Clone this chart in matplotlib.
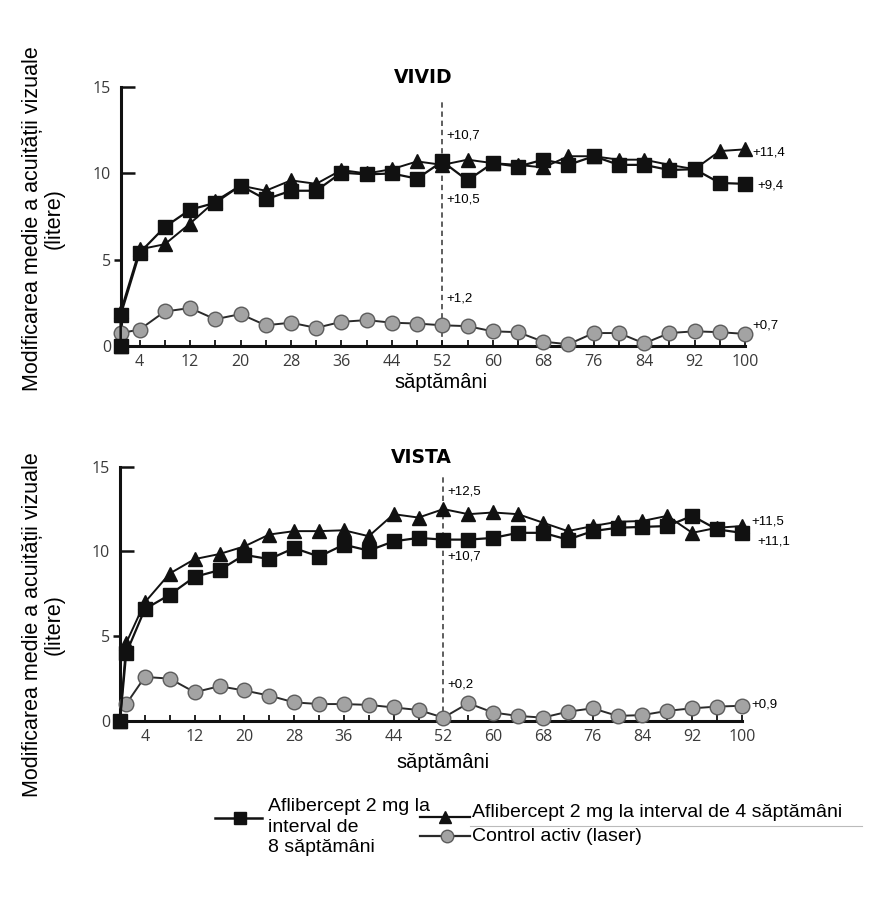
import matplotlib
matplotlib.use('Agg')
import matplotlib.pyplot as plt
import matplotlib.lines as mlines

plt.rcParams['font.family'] = ['Liberation Sans', 'DejaVu Sans']

# Săptămâni (vizite la fiecare 4 săptămâni)
weeks = list(range(4, 101, 4))

# VIVID
vivid_weeks_af = [1, 1] + weeks
vivid_weeks_laser = [1] + weeks
vivid_2q8 = [0, 1.8, 5.4, 6.9, 7.9, 8.3, 9.3, 8.5, 9.0, 9.0, 10.05, 9.95, 10.0, 9.7,
             10.7, 9.6, 10.6, 10.4, 10.8, 10.5, 11.0, 10.5, 10.5, 10.2, 10.25, 9.45, 9.4]
vivid_2q4 = [0, 2.0, 5.6, 5.9, 7.1, 8.4, 9.3, 9.0, 9.6, 9.4, 10.2, 10.0, 10.25, 10.7,
             10.5, 10.8, 10.6, 10.5, 10.35, 11.0, 11.0, 10.8, 10.8, 10.5, 10.25, 11.3, 11.4]
vivid_laser = [0.75, 0.95, 2.0, 2.2, 1.55, 1.85, 1.2, 1.35, 1.05, 1.4, 1.5, 1.35, 1.3,
               1.2, 1.15, 0.85, 0.8, 0.25, 0.1, 0.75, 0.75, 0.15, 0.75, 0.85, 0.8, 0.7]

# VISTA
vista_weeks_af = [0, 1] + weeks
vista_weeks_laser = [1] + weeks
vista_2q8 = [0, 4.0, 6.6, 7.45, 8.5, 8.9, 9.8, 9.55, 10.2, 9.7, 10.4, 10.05, 10.6, 10.8,
             10.7, 10.7, 10.8, 11.1, 11.1, 10.7, 11.2, 11.4, 11.45, 11.5, 12.1, 11.3, 11.1]
vista_2q4 = [0, 4.6, 7.0, 8.7, 9.55, 9.85, 10.3, 11.0, 11.2, 11.2, 11.25, 10.9, 12.2, 12.0,
             12.5, 12.2, 12.3, 12.2, 11.7, 11.2, 11.5, 11.75, 11.8, 12.1, 11.1, 11.4, 11.5]
vista_laser = [1.0, 2.6, 2.5, 1.7, 2.05, 1.8, 1.5, 1.1, 1.0, 1.0, 0.95, 0.8, 0.65,
               0.2, 1.05, 0.5, 0.3, 0.2, 0.55, 0.75, 0.3, 0.35, 0.6, 0.75, 0.85, 0.9]

major_weeks = list(range(4, 101, 8))
minor_weeks = list(range(8, 97, 8))

sq_style = dict(color='#111111', lw=1.6, marker='s', ms=10, mfc='#111111', mec='#111111', clip_on=False, zorder=5)
tri_style = dict(color='#111111', lw=1.4, marker='^', ms=9.5, mfc='#111111', mec='#111111', clip_on=False, zorder=4)
circ_style = dict(color='#2a2a2a', lw=1.4, marker='o', ms=10.5, mfc='#a3a3a3', mec='#5c5c5c', mew=1.0, clip_on=False, zorder=3)

W, H = 879.0, 905.0


def fx(px):
    return px / W


def fy(py):
    return 1 - py / H


def setup_axes(ax, xmin, title):
    ax.set_xlim(xmin, 100)
    ax.set_ylim(0, 15)
    for s in ['top', 'right']:
        ax.spines[s].set_visible(False)
    for s in ['left', 'bottom']:
        ax.spines[s].set_linewidth(2.2)
        ax.spines[s].set_color('#111111')
    ax.set_yticks([0, 5, 10, 15])
    ax.set_xticks(major_weeks)
    ax.set_xticks(minor_weeks, minor=True)
    ax.tick_params(axis='y', direction='in', length=10, width=1.8, pad=7,
                   labelsize=11.5, labelcolor='#3a3a3a', color='#111111')
    ax.tick_params(axis='x', which='both', direction='in', length=4.5, width=1.3,
                   color='#111111')
    ax.tick_params(axis='x', which='major', pad=6, labelsize=11.5, labelcolor='#3a3a3a')
    for lab in ax.get_xticklabels() + ax.get_yticklabels():
        lab.set_fontfamily(['Open Sans', 'DejaVu Sans'])
    # tick pentru 5 spre exterior, ca în original
    t5 = ax.yaxis.get_major_ticks()[1]
    t5.tick1line.set_marker(mlines.TICKLEFT)
    t5.tick1line.set_markersize(5)
    ax.set_title(title, fontsize=13.5, fontweight='bold', family='DejaVu Sans', x=0.484, pad=3)


fig = plt.figure(figsize=(8.79, 9.05), dpi=100)

ax1 = fig.add_axes([0.1373, 0.6177, 0.7103, 0.2859])
ax2 = fig.add_axes([0.1365, 0.2033, 0.7076, 0.2810])

# VIVID
ax1.axvline(52, ymin=0, ymax=14.3 / 15, color='#333333', lw=1.1, ls=(0, (3.5, 2.5)), zorder=1)
ax1.plot(vivid_weeks_laser, vivid_laser, **circ_style)
ax1.plot(vivid_weeks_af, vivid_2q4, **tri_style)
ax1.plot(vivid_weeks_af, vivid_2q8, **sq_style)
setup_axes(ax1, 1, 'VIVID')

ann = dict(textcoords='offset points', fontsize=9.5, va='center', ha='left')
ax1.annotate('+10,7', xy=(52, vivid_2q8[14]), xytext=(3, 19), **ann)
ax1.annotate('+10,5', xy=(52, vivid_2q4[14]), xytext=(3, -25), **ann)
ax1.annotate('+1,2', xy=(52, vivid_laser[13]), xytext=(3, 19.5), **ann)
ax1.annotate('+11,4', xy=(100, vivid_2q4[-1]), xytext=(5, -2.5), **ann)
ax1.annotate('+9,4', xy=(100, vivid_2q8[-1]), xytext=(9, -1.5), **ann)
ax1.annotate('+0,7', xy=(100, vivid_laser[-1]), xytext=(5, 6), **ann)

# VISTA
ax2.axvline(52, ymin=0, ymax=14.4 / 15, color='#333333', lw=1.1, ls=(0, (3.5, 2.5)), zorder=1)
ax2.plot(vista_weeks_laser, vista_laser, **circ_style)
ax2.plot(vista_weeks_af, vista_2q4, **tri_style)
ax2.plot(vista_weeks_af, vista_2q8, **sq_style)
setup_axes(ax2, 0, 'VISTA')

ax2.annotate('+12,5', xy=(52, vista_2q4[14]), xytext=(3, 13), **ann)
ax2.annotate('+10,7', xy=(52, vista_2q8[14]), xytext=(3, -12.5), **ann)
ax2.annotate('+0,2', xy=(52, vista_laser[13]), xytext=(3, 23.5), **ann)
ax2.annotate('+11,5', xy=(100, vista_2q4[-1]), xytext=(7, 3.6), **ann)
ax2.annotate('+11,1', xy=(100, vista_2q8[-1]), xytext=(11, -6.3), **ann)
ax2.annotate('+0,9', xy=(100, vista_laser[-1]), xytext=(7, 1), **ann)

# etichete axa x
fig.text(fx(441), fy(383), 'săptămâni', ha='center', va='center', fontsize=14.5)
fig.text(fx(443), fy(762), 'săptămâni', ha='center', va='center', fontsize=14.5)

# etichete axa y
ylab = 'Modificarea medie a acuității vizuale\n(litere)'
fig.text(fx(43), fy(219), ylab, rotation=90, ha='center', va='center',
         multialignment='center', fontsize=15.5, linespacing=1.05)
fig.text(fx(43), fy(625), ylab, rotation=90, ha='center', va='center',
         multialignment='center', fontsize=15.5, linespacing=1.05)

# legenda
leg_items = [
    (215, 262, 240, 818, dict(marker='s', ms=8, mfc='#111111', mec='#111111', color='#111111', lw=1.8)),
    (420, 470, 445, 817, dict(marker='^', ms=8, mfc='#111111', mec='#111111', color='#111111', lw=1.6)),
    (420, 470, 447, 836, dict(marker='o', ms=9, mfc='#a3a3a3', mec='#5c5c5c', color='#2a2a2a', lw=1.6)),
]
for x0, x1, xm, y, st in leg_items:
    fig.add_artist(mlines.Line2D([fx(x0), fx(xm), fx(x1)], [fy(y)] * 3, markevery=[1],
                                 transform=fig.transFigure, **st))

fig.add_artist(mlines.Line2D([fx(470), fx(862)], [fy(826)] * 2, transform=fig.transFigure,
                             color='#bbbbbb', lw=0.8))

fig.text(fx(268), fy(798), 'Aflibercept 2 mg la\ninterval de\n8 săptămâni', ha='left', va='top',
         fontsize=14, linespacing=1.28)
fig.text(fx(472), fy(812), 'Aflibercept 2 mg la interval de 4 săptămâni', ha='left', va='center',
         fontsize=14)
fig.text(fx(472), fy(836), 'Control activ (laser)', ha='left', va='center', fontsize=14)

fig.savefig('out.png', dpi=100)
